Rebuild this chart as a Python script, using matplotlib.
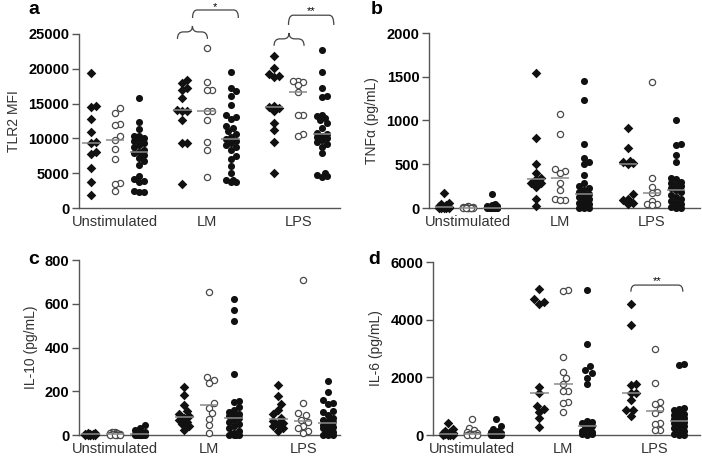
import numpy as np
import matplotlib
matplotlib.use("Agg")
import matplotlib.pyplot as plt
from matplotlib.path import Path
from matplotlib.patches import PathPatch

plt.rcParams['font.family'] = ['Liberation Sans', 'DejaVu Sans']

groups = ["Unstimulated", "LM", "LPS"]

# panel a: TLR2 MFI  (d = diamonds, o = open circles, f = filled circles)
tlr2_uns_d = [19400, 14600, 14500, 12800, 10900, 9500, 9300, 8000, 7700, 5700, 3800, 1900]
tlr2_uns_o = [14300, 13700, 12000, 11900, 10300, 9700, 8500, 7000, 3600, 3500, 2500]
tlr2_uns_f = [15800, 12400, 11400, 10400, 10300, 10100, 9900, 9600, 9300, 9000, 8700, 8400, 8100,
              7900, 7600, 7200, 6700, 6200, 4600, 4200, 3900, 3800, 2300, 2400, 2300]
tlr2_lm_d = [18400, 17900, 17300, 17000, 15800, 14100, 14000, 13900, 12600, 9400, 9400, 3500]
tlr2_lm_o = [23000, 18100, 17000, 16900, 14000, 13900, 12600, 9500, 8300, 4400]
tlr2_lm_f = [19600, 17300, 16800, 16100, 14800, 13400, 13100, 12800, 11800, 11500, 11000, 10600, 10200,
             9900, 9600, 9300, 9000, 8700, 8300, 7400, 7000, 6000, 5000, 4000, 4000, 3700, 3700]
tlr2_lps_d = [21800, 20100, 19300, 19000, 18800, 14700, 14500, 14300, 13900, 12200, 11200, 9500, 5100]
tlr2_lps_o = [18300, 18200, 18100, 17700, 16600, 13400, 13300, 10700, 10400]
tlr2_lps_f = [22700, 19600, 17300, 16100, 15900, 13400, 13200, 12900, 12600, 12200, 11500, 10800, 10600,
              10400, 10200, 10000, 9800, 9500, 9200, 8800, 7900, 5000, 4800, 4600, 4500]

# panel b: TNFa
tnf_uns_d = [175, 60, 40, 30, 20, 15, 10, 5, 5, 0, 0, 0]
tnf_uns_o = [20, 15, 10, 10, 5, 5, 0, 0, 0, 0, 0]
tnf_uns_f = [165, 40, 30, 25, 20, 15, 12, 10, 8, 5, 5, 3, 2, 0, 0, 0, 0, 0, 0, 0]
tnf_lm_d = [1540, 800, 500, 400, 340, 330, 280, 280, 240, 100, 20]
tnf_lm_o = [1070, 850, 450, 420, 400, 290, 200, 100, 90, 90]
tnf_lm_f = [1450, 1230, 730, 570, 520, 500, 380, 280, 250, 230, 200, 180, 160, 140, 120, 100, 80,
            60, 40, 30, 20, 10, 5, 0, 0]
tnf_lps_d = [910, 690, 540, 520, 510, 500, 160, 100, 90, 60, 50]
tnf_lps_o = [1440, 340, 240, 180, 170, 80, 50, 40, 30]
tnf_lps_f = [1010, 730, 720, 600, 520, 340, 330, 300, 280, 260, 250, 230, 200, 180, 150, 120, 100,
             80, 60, 40, 30, 20, 10, 0, 0]

# panel c: IL-10
il10_uns_d = [10, 8, 6, 5, 4, 3, 2, 2, 1, 0, 0, 0]
il10_uns_o = [15, 12, 10, 8, 6, 4, 3, 2, 0, 0, 0]
il10_uns_f = [45, 30, 22, 15, 10, 8, 6, 5, 4, 3, 2, 1, 0, 0, 0, 0, 0, 0, 0, 0]
il10_lm_d = [220, 185, 135, 110, 95, 85, 80, 70, 60, 50, 40, 25]
il10_lm_o = [655, 265, 250, 240, 145, 125, 100, 75, 45, 8]
il10_lm_f = [620, 570, 520, 280, 155, 150, 130, 115, 105, 95, 90, 85, 80, 70, 60, 50, 40, 30, 20,
             10, 5, 0, 0, 0, 0]
il10_lps_d = [230, 180, 140, 115, 95, 80, 65, 55, 50, 40, 30, 20]
il10_lps_o = [710, 145, 100, 90, 70, 60, 40, 30, 20, 10]
il10_lps_f = [245, 195, 160, 145, 140, 110, 105, 90, 80, 70, 65, 60, 55, 50, 45, 40, 35, 30, 20,
              15, 10, 5, 0, 0, 0]

# panel d: IL-6
il6_uns_d = [400, 200, 150, 100, 80, 60, 40, 20, 10, 0, 0, 0]
il6_uns_o = [550, 250, 180, 120, 80, 50, 30, 20, 10, 0, 0]
il6_uns_f = [560, 300, 200, 150, 120, 100, 80, 70, 60, 50, 40, 30, 20, 10, 5, 0, 0, 0, 0, 0]
il6_lm_d = [5050, 4700, 4600, 4550, 1680, 1450, 1000, 900, 800, 580, 290]
il6_lm_o = [5030, 5000, 2720, 2200, 1970, 1770, 1540, 1520, 1140, 1120, 810]
il6_lm_f = [5030, 3160, 2400, 2250, 2150, 1970, 1760, 500, 450, 400, 350, 300, 250, 200, 150, 120,
            100, 80, 60, 40, 20, 0]
il6_lps_d = [4540, 3820, 1760, 1750, 1450, 1440, 1200, 870, 860, 660]
il6_lps_o = [2970, 1820, 1130, 1060, 900, 750, 400, 380, 170, 160]
il6_lps_f = [2460, 2440, 950, 900, 850, 800, 750, 720, 700, 650, 600, 550, 500, 450, 400, 350, 300,
             250, 200, 150, 100, 50, 20, 0, 0]

panels = [
    ("a", "TLR2 MFI", 25000, 5000,
     [[tlr2_uns_d, tlr2_uns_o, tlr2_uns_f], [tlr2_lm_d, tlr2_lm_o, tlr2_lm_f], [tlr2_lps_d, tlr2_lps_o, tlr2_lps_f]]),
    ("b", "TNF\u03b1 (pg/mL)", 2000, 500,
     [[tnf_uns_d, tnf_uns_o, tnf_uns_f], [tnf_lm_d, tnf_lm_o, tnf_lm_f], [tnf_lps_d, tnf_lps_o, tnf_lps_f]]),
    ("c", "IL-10 (pg/mL)", 800, 200,
     [[il10_uns_d, il10_uns_o, il10_uns_f], [il10_lm_d, il10_lm_o, il10_lm_f], [il10_lps_d, il10_lps_o, il10_lps_f]]),
    ("d", "IL-6 (pg/mL)", 6000, 2000,
     [[il6_uns_d, il6_uns_o, il6_uns_f], [il6_lm_d, il6_lm_o, il6_lm_f], [il6_lps_d, il6_lps_o, il6_lps_f]]),
]

W, H = 702, 461
# axes boxes in pixels: left, right, top, bottom
boxes = [(79, 340, 34, 208), (429, 700, 33, 208), (79, 340, 260, 435), (433, 700, 262, 435)]
xlims = [(-1.57, 9.83), (-1.70, 10.09), (-1.53, 9.57), (-1.70, 9.97)]
offsets = [-1.05, 0.0, 1.05]
axcol = "#555555"


def swarm(vals, ypp, xpp, d=6.0, step=2.5, maxk=2):
    order = np.argsort(vals)
    placed = []
    offs = np.zeros(len(vals))
    cands = [0.0]
    for k in range(1, maxk + 1):
        cands += [k * step, -k * step]
    for i in order:
        y = vals[i] * ypp
        best, bestc, bestd = None, 0.0, -1
        for c in cands:
            md = min([np.hypot(c - px, y - py) for px, py in placed]) if placed else 1e9
            if md >= d:
                best = c
                break
            if md > bestd:
                bestd, bestc = md, c
        if best is None:
            best = bestc
        placed.append((best, y))
        offs[i] = best / xpp
    return offs


def bracket(ax, x0, x1, ybot, ytop, r, ytip=None):
    xm = (x0 + x1) / 2
    verts = [(x0, ybot), (x0, ytop), (x0 + r, ytop)]
    codes = [Path.MOVETO, Path.CURVE3, Path.CURVE3]
    if ytip is not None:
        verts += [(xm - r, ytop), (xm, ytop), (xm, ytip), (xm, ytop), (xm + r, ytop)]
        codes += [Path.LINETO, Path.CURVE3, Path.CURVE3, Path.CURVE3, Path.CURVE3]
    verts += [(x1 - r, ytop), (x1, ytop), (x1, ybot)]
    codes += [Path.LINETO, Path.CURVE3, Path.CURVE3]
    ax.add_patch(PathPatch(Path(verts, codes), fill=False, ec="#444444", lw=0.9, clip_on=False))


fig = plt.figure(figsize=(W / 100, H / 100), dpi=100)
axes = []
for p, (letter, ylab, ymax, ystep, data) in enumerate(panels):
    l, r, t, b = boxes[p]
    ax = fig.add_axes([l / W, 1 - b / H, (r - l) / W, (b - t) / H])
    axes.append(ax)
    xmin, xmax = xlims[p]
    ax.set_xlim(xmin, xmax)
    ax.set_ylim(0, ymax)
    xpp = (r - l) / (xmax - xmin)
    ypp = (b - t) / ymax
    for g in range(3):
        for s in range(3):
            vals = np.array(data[g][s], dtype=float)
            xc = g * 4 + offsets[s]
            xs = xc + swarm(vals, ypp, xpp)
            if s == 0:
                ax.scatter(xs, vals, marker="D", s=24, c="#111111", linewidths=0, clip_on=False, zorder=3)
            elif s == 1:
                ax.scatter(xs, vals, marker="o", s=20, facecolors="white", edgecolors="#4a4a4a",
                           linewidths=0.9, clip_on=False, zorder=3)
            else:
                ax.scatter(xs, vals, marker="o", s=26, c="#111111", linewidths=0, clip_on=False, zorder=3)
            med = np.median(vals)
            ax.plot([xc - 0.4, xc + 0.4], [med, med], color="#8a8a8a", lw=1.1, zorder=4,
                    solid_capstyle="butt", clip_on=False)
    for side in ["top", "right"]:
        ax.spines[side].set_visible(False)
    for side in ["left", "bottom"]:
        ax.spines[side].set_color(axcol)
        ax.spines[side].set_linewidth(1.0)
    ax.set_yticks(np.arange(0, ymax + 1, ystep))
    ax.set_yticklabels([str(v) for v in np.arange(0, ymax + 1, ystep)], fontsize=10.5, fontweight="bold")
    ax.tick_params(axis="y", length=5, width=1.0, color=axcol, pad=2)
    ax.set_xticks([0, 4, 8])
    ax.set_xticklabels(groups, fontsize=10.5, color="#333333")
    ax.tick_params(axis="x", length=0, pad=5)
    ax.set_ylabel(ylab, fontsize=10, color="#333333", labelpad=5)

# panel letters
fig.text(28 / W, 1 - 10 / H, "a", fontsize=14, fontweight="bold", va="center")
fig.text(371 / W, 1 - 10 / H, "b", fontsize=14, fontweight="bold", va="center")
fig.text(28 / W, 1 - 260 / H, "c", fontsize=14, fontweight="bold", va="center")
fig.text(368 / W, 1 - 260 / H, "d", fontsize=14, fontweight="bold", va="center")

# significance brackets
ax = axes[0]
bracket(ax, 2.73, 4.04, 24300, 25300, 0.25, ytip=26150)
bracket(ax, 3.39, 5.39, 27300, 28450, 0.2)
ax.text(4.39, 28900, "*", ha="center", va="center", fontsize=8)
bracket(ax, 6.95, 8.26, 23300, 24300, 0.25, ytip=25150)
bracket(ax, 7.58, 9.56, 26300, 27700, 0.2)
ax.text(8.57, 28250, "**", ha="center", va="center", fontsize=8)
ax = axes[3]
bracket(ax, 6.95, 9.22, 4970, 5200, 0.2)
ax.text(8.08, 5330, "**", ha="center", va="center", fontsize=8)

fig.savefig("out.png", dpi=100)
